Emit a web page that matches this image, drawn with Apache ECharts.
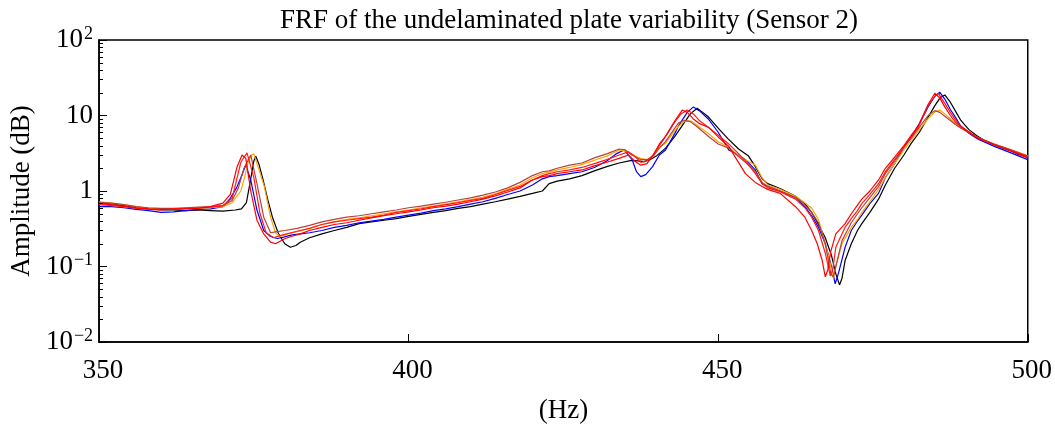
<!DOCTYPE html>
<html>
<head>
<meta charset="utf-8">
<script src="https://cdn.jsdelivr.net/npm/echarts@6/dist/echarts.min.js"></script>
<style>
  html, body { margin: 0; padding: 0; background: #fff; }
  #chart { width: 1055px; height: 430px; }
</style>
</head>
<body>
<div id="chart"></div>
<script>
// FRF amplitude curves, [Hz, amplitude]
const black = [[350,0.70],[352,0.68],[354,0.64],[356,0.60],[358,0.58],[360,0.56],[362,0.56],[364,0.55],[366,0.56],[368,0.55],[370,0.54],[372,0.56],[373,0.58],[373.8,0.70],[374.4,1.3],[375,2.5],[375.3,2.9],[375.8,2.3],[376.5,1.4],[377.2,0.8],[378,0.45],[379,0.27],[380,0.20],[380.9,0.18],[381.8,0.19],[382.5,0.21],[384,0.24],[386,0.27],[388,0.30],[390,0.33],[392,0.37],[394,0.39],[396,0.41],[398,0.43],[400,0.46],[402,0.49],[404,0.52],[406,0.55],[408,0.59],[410,0.62],[412,0.67],[414,0.72],[416,0.78],[418,0.85],[420,0.93],[421.6,1.0],[422.7,1.25],[424,1.35],[426,1.45],[428,1.6],[430,1.85],[432,2.1],[434,2.35],[436,2.55],[437,2.5],[438,2.45],[439,2.6],[440,2.9],[441.5,3.7],[443,5.3],[444.5,8],[445.5,10.5],[446.6,12.5],[447.5,11],[448.4,9.6],[450,6.8],[451.6,4.9],[453.3,3.6],[454.9,2.9],[456,2.1],[457.1,1.45],[458,1.25],[460,1.08],[462.5,0.85],[464,0.68],[465.1,0.52],[466.2,0.36],[467.3,0.24],[468.3,0.14],[469,0.08],[469.6,0.057],[470,0.07],[470.5,0.12],[471.5,0.20],[472.5,0.30],[473.2,0.37],[474.5,0.52],[475.9,0.78],[477,1.2],[478.5,2.0],[480,3.0],[481.2,4.3],[482.5,6],[483.9,9.5],[485,13.5],[485.8,17],[486.6,18.7],[487.5,15],[488.3,11.5],[489.2,8.6],[490.5,6.5],[491.9,5.3],[493,4.7],[494.6,4.1],[496,3.7],[497.3,3.4],[498.5,3.05],[500,2.8]];

const blue = [[350,0.62],[352,0.62],[354,0.60],[356,0.57],[358,0.55],[360,0.52],[362,0.53],[364,0.55],[366,0.57],[368,0.58],[370,0.62],[371.2,0.8],[372.2,1.1],[372.9,1.5],[373.7,2.2],[374.5,1.4],[375.5,0.56],[376.6,0.30],[377.7,0.25],[378.8,0.235],[379.8,0.245],[381,0.26],[382.5,0.27],[384,0.28],[386,0.30],[388,0.33],[390,0.35],[392,0.38],[394,0.40],[396,0.42],[398,0.45],[400,0.48],[402,0.51],[404,0.55],[406,0.58],[408,0.62],[410,0.67],[412,0.72],[414,0.80],[416,0.90],[418,1.0],[420,1.2],[421.6,1.45],[422.7,1.55],[424,1.6],[426,1.7],[428,1.8],[430,2.05],[432,2.5],[433.5,3.1],[434.8,3.5],[436.1,2.6],[436.8,1.8],[437.5,1.55],[438.3,1.65],[439.4,2.1],[440.5,3.0],[441.5,3.5],[443,5.8],[443.6,7.3],[445,11],[446,13],[447,11.5],[448.4,9],[450,6],[451.7,3.5],[453,3.1],[454.4,2.6],[456,1.9],[457.1,1.25],[458,1.15],[460,1.0],[462.5,0.82],[464,0.62],[465.1,0.47],[466.2,0.33],[467.3,0.20],[468.3,0.10],[468.9,0.059],[469.4,0.08],[470.5,0.18],[471.5,0.30],[472.5,0.40],[473.2,0.48],[474.5,0.68],[475.9,0.93],[477,1.5],[478.5,2.3],[480,3.8],[481.2,5.3],[482.5,7.8],[483.9,13],[485,18],[485.8,20.3],[486.6,16.5],[487.5,12],[488.3,9.5],[489.2,7.2],[490.5,5.8],[491.9,4.9],[494.6,3.9],[497.3,3.2],[500,2.6]];

const redA = [[350,0.68],[352,0.66],[354,0.63],[356,0.60],[358,0.58],[360,0.57],[362,0.57],[364,0.58],[366,0.59],[368,0.62],[370,0.69],[371.2,0.9],[372.3,2.1],[373.1,3.0],[373.7,2.7],[374.5,1.0],[375.5,0.41],[376.6,0.27],[377.7,0.21],[378.5,0.20],[379.8,0.23],[381,0.25],[382.5,0.27],[384,0.30],[386,0.33],[388,0.36],[390,0.38],[392,0.41],[394,0.44],[396,0.47],[398,0.50],[400,0.53],[402,0.56],[404,0.60],[406,0.63],[408,0.67],[410,0.72],[412,0.78],[414,0.86],[416,0.97],[418,1.1],[420,1.4],[421.6,1.55],[422.7,1.6],[424,1.7],[426,1.8],[428,1.9],[430,2.15],[432,2.4],[434,2.7],[435.5,3.0],[436.5,2.5],[437.5,2.2],[438.5,2.3],[439.5,3.0],[440.5,4.2],[441.5,5.3],[443,8.5],[444.2,11.8],[445,11],[446,9],[447,7.8],[448.4,7],[450,5.2],[451.7,3.9],[453,2.6],[454.4,1.7],[456,1.3],[457.1,1.15],[458,1.05],[460,0.93],[462.5,0.62],[464,0.45],[465.1,0.30],[466,0.20],[466.8,0.12],[467.3,0.073],[467.7,0.09],[468.2,0.16],[469,0.27],[470.5,0.37],[471.5,0.50],[472.5,0.65],[473.2,0.78],[474.5,1.0],[475.9,1.4],[477,2.0],[478.5,2.8],[480,4.0],[481.2,5.5],[482.3,7.2],[483.9,14],[485,19.7],[485.8,17],[486.6,13],[487.5,10],[488.3,8.2],[489.2,7.1],[490.5,6],[491.9,5],[494.6,4.1],[497.3,3.4],[500,2.75]];

const redB = [[350,0.66],[352,0.64],[354,0.62],[356,0.59],[358,0.57],[360,0.56],[362,0.58],[364,0.59],[366,0.60],[368,0.61],[370,0.64],[371.5,0.8],[372.9,2.4],[373.9,3.2],[375,1.5],[376,0.50],[377,0.28],[378.2,0.24],[379.5,0.26],[381,0.28],[382.5,0.30],[384,0.32],[386,0.36],[388,0.39],[390,0.41],[392,0.43],[394,0.45],[396,0.48],[398,0.52],[400,0.55],[402,0.58],[404,0.62],[406,0.66],[408,0.70],[410,0.75],[412,0.80],[414,0.90],[416,1.02],[418,1.15],[420,1.4],[421.6,1.6],[422.7,1.7],[424,1.8],[426,1.9],[428,2.05],[430,2.3],[432,2.6],[434,3.0],[435.5,3.3],[436.5,2.9],[437.5,2.4],[438.5,2.5],[439.5,3.0],[440.5,4.0],[441.5,5.3],[443,8.2],[444,10.5],[445,11.8],[446,10.5],[447,8.5],[448.4,7],[450,5.5],[451.7,4.2],[453,3.3],[454.4,2.5],[456,1.7],[457.1,1.25],[458,1.1],[460,0.98],[462.5,0.78],[464,0.60],[465.1,0.45],[466.2,0.30],[467.3,0.15],[468.1,0.075],[468.5,0.09],[469,0.18],[470.5,0.33],[471.5,0.43],[472.5,0.55],[473.2,0.68],[474.5,0.9],[475.9,1.25],[477,1.8],[478.5,2.6],[480,3.8],[481.2,5.2],[482.3,7],[483.9,13.5],[485,18],[485.6,19.5],[486.6,14.5],[487.5,11],[488.3,8.8],[489.2,7.2],[490.5,6.1],[491.9,5.1],[494.6,4.1],[497.3,3.4],[500,2.85]];

const orange = [[350,0.72],[352,0.69],[354,0.66],[356,0.62],[358,0.59],[360,0.58],[362,0.58],[364,0.59],[366,0.59],[368,0.60],[370,0.62],[371.5,0.70],[372.9,1.0],[373.5,1.5],[374,2.3],[374.6,3.0],[375,3.1],[375.6,2.2],[376.7,1.14],[377.7,0.45],[378.5,0.28],[379.3,0.25],[380.5,0.27],[382,0.29],[384,0.32],[386,0.36],[388,0.39],[390,0.42],[392,0.44],[394,0.47],[396,0.50],[398,0.53],[400,0.56],[402,0.60],[404,0.63],[406,0.67],[408,0.72],[410,0.77],[412,0.83],[414,0.92],[416,1.05],[418,1.2],[420,1.5],[421.6,1.7],[422.7,1.78],[424,1.9],[426,2.05],[428,2.25],[430,2.55],[432,2.9],[434,3.5],[435,3.4],[436.1,3.0],[437.5,2.7],[438.5,2.6],[439.4,2.8],[440.5,3.8],[441.5,4.3],[443,6.3],[443.6,7.2],[444.7,8.5],[445.7,8.4],[447,7],[448.4,5.8],[450,4.5],[451.7,3.8],[453,3.1],[454.4,2.6],[456,2.2],[457.1,1.5],[458,1.2],[460,1.05],[462.5,0.85],[464,0.70],[465.1,0.59],[466.2,0.42],[467.3,0.20],[468,0.12],[468.6,0.07],[469,0.10],[470,0.20],[471.5,0.33],[472.5,0.42],[473.2,0.52],[474.5,0.72],[475.9,1.05],[477,1.5],[478.5,2.3],[480,3.5],[481.2,4.7],[482.5,6.5],[483.9,9.1],[485,11.2],[485.8,11.8],[486.6,10.5],[487.5,9],[488.3,7.8],[489.2,7.0],[490.5,6.0],[491.9,5.1],[494.6,4.2],[497.3,3.5],[500,2.95]];

const brown = [[350,0.71],[352,0.69],[354,0.66],[356,0.62],[358,0.60],[360,0.59],[362,0.59],[364,0.60],[366,0.61],[368,0.62],[370,0.64],[371.5,0.75],[372.5,1.1],[373.4,2.0],[374.5,3.0],[375.5,1.25],[376.6,0.45],[377.7,0.28],[378.7,0.29],[380,0.30],[382,0.32],[384,0.35],[386,0.39],[388,0.42],[390,0.45],[392,0.47],[394,0.50],[396,0.53],[398,0.56],[400,0.60],[402,0.63],[404,0.67],[406,0.71],[408,0.76],[410,0.81],[412,0.88],[414,0.97],[416,1.1],[418,1.3],[420,1.6],[421.6,1.8],[422.7,1.85],[424,2.0],[426,2.2],[428,2.35],[430,2.75],[432,3.1],[434,3.6],[435,3.5],[436.1,3.0],[437.5,2.6],[438.5,2.6],[439.5,2.9],[440.5,3.7],[441.5,4.5],[443,6.8],[443.6,8.0],[444.5,8.6],[445.5,8.3],[446.5,7.2],[448.4,5.3],[450,4.2],[451.7,3.7],[453,3.0],[454.4,2.4],[456,1.8],[457.1,1.3],[458,1.15],[460,1.0],[462.5,0.82],[464,0.65],[465.1,0.52],[466.2,0.38],[467.3,0.20],[468.2,0.08],[468.6,0.072],[469,0.10],[470,0.22],[471.5,0.38],[472.5,0.50],[473.2,0.60],[474.5,0.82],[475.9,1.15],[477,1.7],[478.5,2.5],[480,3.8],[481.2,5],[482.5,7],[483.9,10],[485,11.6],[485.8,11],[486.6,9.8],[487.5,8.6],[488.3,7.6],[489.2,6.8],[490.5,5.9],[491.9,5.1],[494.6,4.2],[497.3,3.5],[500,2.9]];

const curves = [
    { data: black, color: "#000000" },
    { data: blue, color: "#0000ff" },
    { data: orange, color: "#ffa500" },
    { data: brown, color: "#b5423c" },
    { data: redB, color: "#ff1a1a" },
    { data: redA, color: "#ff0000" },
];

const xTicks = [350, 400, 450, 500];
// minor ticks 2..9 x 10^k on the log axis
const yMinor = [];
for (let k = -2; k < 2; k++) {
    for (let m = 2; m <= 9; m++) yMinor.push(+(m * Math.pow(10, k)).toPrecision(3));
}

const FONT = "Liberation Serif";

function yLabel(v) {
    const e = Math.round(Math.log10(v));
    if (e === 0) return "1";
    if (e === 1) return "10";
    return "{b|10}{s|" + (e < 0 ? "\u2212" + (-e) : e) + "}";
}

const chart = echarts.init(document.getElementById("chart"));
chart.setOption({
    animation: false,
    backgroundColor: "#fff",
    title: {
        text: "FRF of the undelaminated plate variability (Sensor 2)",
        left: 564,
        top: 2,
        textAlign: "center",
        textStyle: { fontFamily: FONT, fontSize: 27, fontWeight: "normal", color: "#000" },
    },
    grid: {
        left: 98, right: 25, top: 40, bottom: 88,
        show: true, borderColor: "#000", borderWidth: 1.5, backgroundColor: "transparent",
    },
    xAxis: {
        type: "value",
        min: 350, max: 500, interval: 50,
        name: "(Hz)",
        nameLocation: "middle",
        nameGap: 55,
        nameTextStyle: { fontFamily: FONT, fontSize: 27, color: "#000" },
        axisLine: { show: true, onZero: false, lineStyle: { color: "#000", width: 1.5 } },
        axisTick: { show: true, inside: true, length: 8, lineStyle: { color: "#000" } },
        axisLabel: {
            fontFamily: FONT, fontSize: 27, color: "#000", margin: 15,
            padding: [0, 0, 0, 8],
            formatter: (v) => (xTicks.includes(v) ? String(v) : ""),
        },
        splitLine: { show: false },
    },
    yAxis: {
        type: "log",
        logBase: 10,
        min: 0.01, max: 100,
        name: "Amplitude (dB)",
        nameLocation: "middle",
        nameGap: 62,
        nameTextStyle: { fontFamily: FONT, fontSize: 27, color: "#000" },
        axisLine: { show: true, lineStyle: { color: "#000", width: 1.5 } },
        axisTick: { show: true, inside: true, length: 8, lineStyle: { color: "#000", width: 1 } },
        axisLabel: {
            fontFamily: FONT, fontSize: 27, color: "#000", margin: 6,
            formatter: yLabel,
            rich: {
                b: { fontFamily: FONT, fontSize: 27, color: "#000" },
                s: { fontFamily: FONT, fontSize: 18, color: "#000", padding: [0, 0, 12, 1] },
            },
        },
        splitLine: { show: false },
    },
    series: curves.map((c) => ({
        type: "line",
        data: c.data,
        showSymbol: false,
        symbol: "none",
        lineStyle: { color: c.color, width: 1.2 },
        itemStyle: { color: c.color },
    })),
});

// log minor ticks, placed through the axis scale
const x0 = chart.convertToPixel({ xAxisIndex: 0 }, 350);
chart.setOption({
    graphic: yMinor.map((v) => {
        const y = Math.round(chart.convertToPixel({ yAxisIndex: 0 }, v)) + 0.5;
        return {
            type: "line", silent: true, z: 10,
            shape: { x1: x0, y1: y, x2: x0 + 4, y2: y },
            style: { stroke: "#000", lineWidth: 1 },
        };
    }),
});
</script>
</body>
</html>
